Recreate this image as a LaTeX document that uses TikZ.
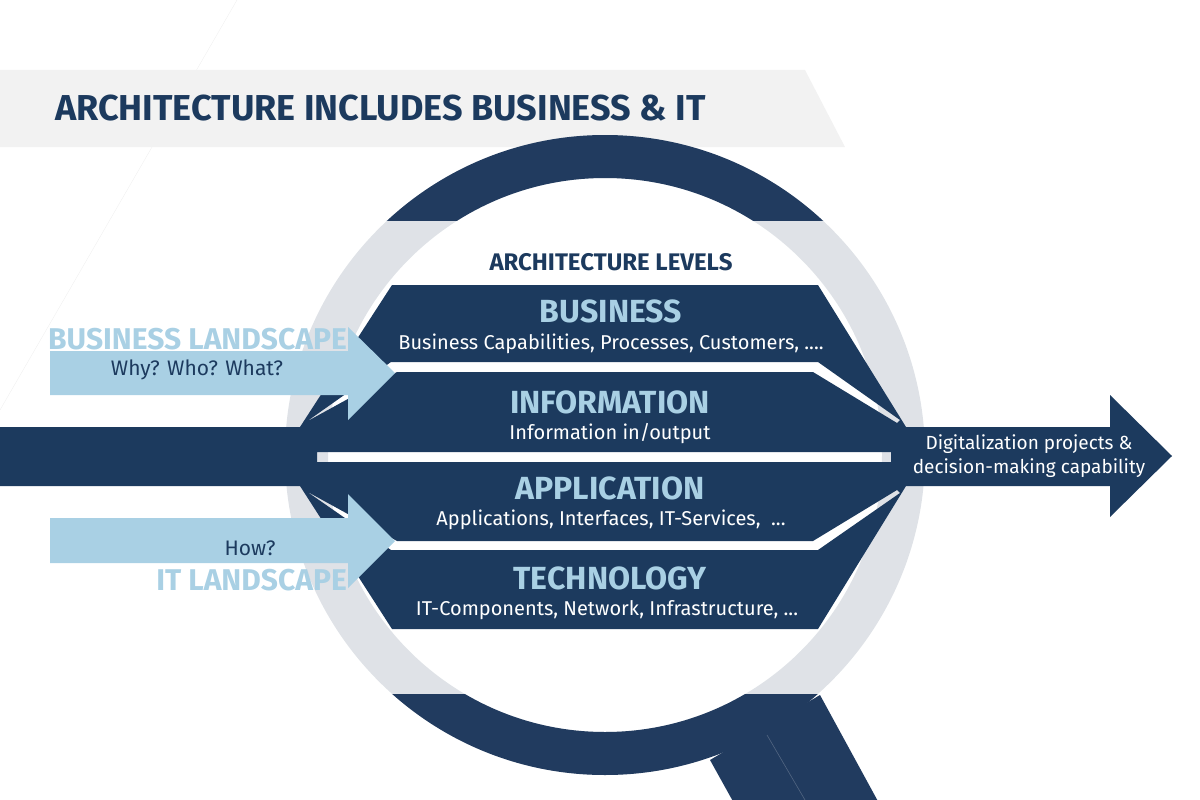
\documentclass[tikz,border=0pt]{standalone}
\usepackage{fontspec}
\setmainfont{Fira Sans}
\usetikzlibrary{positioning}
\definecolor{navy}{HTML}{1C3A5E}
\definecolor{capnavy}{HTML}{213B5F}
\definecolor{sky}{HTML}{A9D0E4}
\definecolor{ring}{HTML}{DFE2E7}
\definecolor{banner}{HTML}{F2F2F2}
\definecolor{faint}{HTML}{F0F0F0}

\begin{document}
\begin{tikzpicture}[x=1pt,y=-1pt,
  level/.style={anchor=base,inner sep=0pt,text=sky,font=\bfseries\fontsize{32}{32}\selectfont},
  detail/.style={anchor=base,inner sep=0pt,text=white,font=\fontsize{20}{20}\selectfont},
  landscape/.style={anchor=base east,inner sep=0pt,text=sky,font=\bfseries\fontsize{30}{30}\selectfont},
  question/.style={anchor=base,inner sep=0pt,text=navy,font=\fontsize{21}{21}\selectfont}]
\useasboundingbox (0,0) rectangle (1200,800);
\clip (0,0) rectangle (1200,800);
\draw[faint] (237,0) -- (0,410);
\fill[banner] (0,70) -- (805,70) -- (845,147) -- (0,147) -- cycle;
\node (title) [anchor=base west,inner sep=0pt,text=navy,font=\bfseries\fontsize{36}{36}\selectfont] at (55,120) {ARCHITECTURE INCLUDES BUSINESS \& IT};

\fill[ring,even odd rule] (605,455) circle (320pt) (605,455) circle (277pt);
\begin{scope}
\clip (0,0) rectangle (1200,220);
\fill[capnavy,even odd rule] (605,455) circle (320pt) (605,455) circle (277pt);
\end{scope}
\begin{scope}
\clip (0,694) rectangle (1200,800);
\fill[capnavy,even odd rule] (605,455) circle (320pt) (605,455) circle (277pt);
\end{scope}
\fill[capnavy] (820,695) -- (880,805) -- (735,805) -- (710,760) -- cycle;
\draw[white!22!capnavy,line width=0.6pt] (767,735) -- (805,800);

\fill[navy,even odd rule] (0,427) -- (300,427) -- (392,285) -- (818,285) -- (906,427) -- (1110,427) -- (1110,395) -- (1172,456) -- (1110,517) -- (1110,486) -- (906,486) -- (818,629) -- (392,629) -- (300,486) -- (0,486) -- cycle
  (306,422) -- (391,362) -- (818,362) -- (900,420) -- (897,423) -- (813,372) -- (397,372) -- cycle
  (317,452) rectangle (891,462)
  (306,491) -- (397,541) -- (813,541) -- (897,490) -- (900,493) -- (818,550) -- (391,550) -- cycle;

\node (bizland) [landscape] at (347,349) {BUSINESS LANDSCAPE};
\node (itland) [landscape] at (347,590) {IT LANDSCAPE};
\fill[sky] (50,351) -- (348,351) -- (348,327) -- (395,373) -- (348,420) -- (348,395) -- (50,395) -- cycle;
\fill[sky] (50,518) -- (348,518) -- (348,494) -- (395,541) -- (348,588) -- (348,563) -- (50,563) -- cycle;
\node (why) [question] at (197,375) {Why? Who? What?};
\node (how) [question] at (250,555) {How?};

\node (levels) [anchor=base,inner sep=0pt,text=navy,font=\bfseries\fontsize{24}{24}\selectfont] at (611,270) {ARCHITECTURE LEVELS};
\node (biz) [level] at (611,322) {BUSINESS};
\node (bizdetail) [detail] at (611,349) {Business Capabilities, Processes, Customers, ....};
\node (info) [level] at (610,413) {INFORMATION};
\node (infodetail) [detail] at (610,439) {Information in/output};
\node (app) [level] at (610,499) {APPLICATION};
\node (appdetail) [detail] at (611,525) {Applications, Interfaces, IT-Services,\ \ ...};
\node (tech) [level] at (610,589) {TECHNOLOGY};
\node (techdetail) [detail] at (607,615) {IT-Components, Network, Infrastructure, ...};

\node (result) [inner sep=0pt,text=white,align=center,font=\fontsize{19}{24}\selectfont] at (1029,456) {Digitalization projects \&\\decision-making capability};
\end{tikzpicture}
\end{document}
